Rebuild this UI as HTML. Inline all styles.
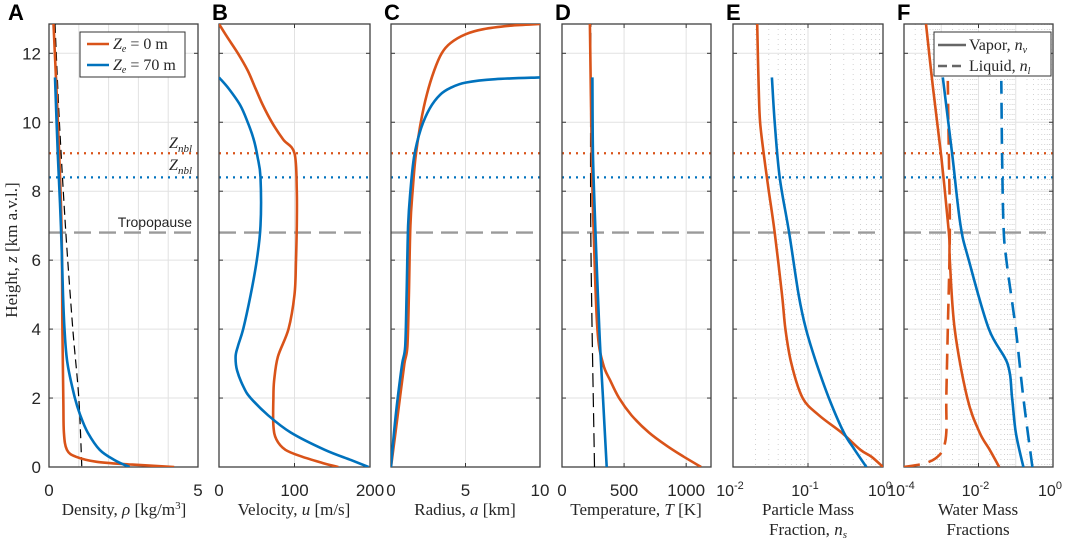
<!DOCTYPE html>
<html><head><meta charset="utf-8">
<style>
body{margin:0;background:#fff;}
svg{display:block;font-family:"Liberation Sans",sans-serif;}
.ser{font-family:"Liberation Serif",serif;}
</style></head>
<body>
<svg id="fig" width="1065" height="538" viewBox="0 0 1065 538" xmlns="http://www.w3.org/2000/svg"></svg>
<script>
// ---- data ----
const zTicks=[0,2,4,6,8,10,12];
const zNblRed=9.1, zNblBlue=8.4, zTrop=6.8;
// Panel A density
const aRedZ=[12.85,10,7,4,2,1,0.5,0.3,0.15,0.07,0];
const aRedV=[0.15,0.3,0.42,0.45,0.48,0.5,0.6,0.9,1.6,2.8,4.2];
const aBlueZ=[11.3,9,7,5,4,3,2,1.5,1,0.5,0.2,0];
const aBlueV=[0.2,0.3,0.4,0.47,0.52,0.62,0.87,1.05,1.3,1.7,2.2,2.7];
const aAtmZ=[12.85,10,7,4,2,0];
const aAtmV=[0.2,0.35,0.55,0.8,1.0,1.1];
// Panel B velocity
const bRedZ=[12.85,12.5,12,11.5,11,10.5,10,9.5,9.1,8,7,6,5,4,3.2,2.5,2,1.2,0.8,0.5,0.3,0.1,0];
const bRedV=[0,10,25,38,48,58,70,85,100,103,103,102,100,92,78,73,72,72,76,88,110,140,158];
const bBlueZ=[11.3,11,10.5,10,9.5,9,8.4,7,6,5,4,3.5,3.2,2.8,2.3,2,1.5,1,0.5,0.2,0];
const bBlueV=[0,12,28,38,46,51,55,55,50,42,32,25,22,24,33,42,65,95,140,175,198];
// Panel C radius
const cRedZ=[0,1,2,3,3.5,5,7,8,9,10,10.8,11.5,12,12.3,12.55,12.7,12.8,12.85];
const cRedV=[0,0.3,0.6,0.9,1.1,1.2,1.3,1.45,1.65,2,2.4,2.9,3.4,4,5,6.2,8,10];
const cBlueZ=[0,1,2,3,3.5,5,7,8,9,9.8,10.4,10.8,11.0,11.15,11.25,11.3];
const cBlueV=[0,0.2,0.45,0.75,0.95,1.05,1.15,1.3,1.55,2,2.6,3.3,4,5,7,10];
// Panel D temperature
const dRedZ=[0,0.3,0.6,1,1.5,2,2.5,3,4,6.8,9,12.85];
const dRedV=[1120,980,850,700,560,460,390,330,285,255,240,225];
const dBlueZ=[0,2,4,6.8,9,11.3];
const dBlueV=[360,330,300,270,250,245];
const dAtmZ=[0,6.8,12.85];
const dAtmV=[262,232,232];
// Panel E particle mass fraction (log)
const eRedZ=[0,0.3,0.5,1,1.5,2,3,4,5,6.8,8,9,10,11,12.85];
const eRedV=[1,0.7,0.5,0.28,0.14,0.085,0.06,0.05,0.045,0.036,0.03,0.026,0.023,0.022,0.021];
const eBlueZ=[0,0.5,1,2,3,4,5,6.8,8.4,10,11.3];
const eBlueV=[0.6,0.42,0.3,0.19,0.13,0.094,0.075,0.056,0.042,0.036,0.033];
// Panel F water mass fractions (log)
const fRedVapZ=[0,0.5,1,2,4,6,6.8,9,11,12.85];
const fRedVapV=[0.036,0.02,0.0107,0.005,0.0023,0.0017,0.0016,0.001,0.0006,0.00039];
const fRedLiqZ=[0,0.1,0.25,0.5,1,2,4,6.8,9,11.2];
const fRedLiqV=[0.0001,0.00034,0.0007,0.0011,0.00137,0.00137,0.0015,0.0017,0.0016,0.0015];
const fBlueVapZ=[0,1,2,3,4,6,7,9,11.3];
const fBlueVapV=[0.16,0.1,0.08,0.06,0.019,0.0055,0.0033,0.002,0.0011];
const fBlueLiqZ=[0,2,4,6,7,9,11.2];
const fBlueLiqV=[0.28,0.16,0.1,0.056,0.047,0.043,0.041];

const RED='#D95319', BLUE='#0072BD';
const NS='http://www.w3.org/2000/svg';
const svg=document.getElementById('fig');
const TOP=24, BOT=467, ZMAX=12.85;
const yS=z=>BOT-(z/ZMAX)*(BOT-TOP);
function el(tag,attrs,parent){const e=document.createElementNS(NS,tag);for(const k in attrs)e.setAttribute(k,attrs[k]);(parent||svg).appendChild(e);return e;}
function pathCR(pts){let d='M'+pts[0][0].toFixed(1)+','+pts[0][1].toFixed(1);
 for(let i=0;i<pts.length-1;i++){const p0=pts[i-1]||pts[i],p1=pts[i],p2=pts[i+1],p3=pts[i+2]||p2;
  const c1=[p1[0]+(p2[0]-p0[0])/6,p1[1]+(p2[1]-p0[1])/6],c2=[p2[0]-(p3[0]-p1[0])/6,p2[1]-(p3[1]-p1[1])/6];
  d+=`C${c1[0].toFixed(1)},${c1[1].toFixed(1)} ${c2[0].toFixed(1)},${c2[1].toFixed(1)} ${p2[0].toFixed(1)},${p2[1].toFixed(1)}`;}
 return d;}

const panels=[
 {id:'a',x0:49,x1:198,min:0,max:5,log:false,ticks:[0,5],tl:['0','5'],grid:[1,2,3,4],letter:'A'},
 {id:'b',x0:219,x1:370,min:0,max:200,log:false,ticks:[0,100,200],tl:['0','100','200'],grid:[100],letter:'B'},
 {id:'c',x0:391,x1:540,min:0,max:10,log:false,ticks:[0,5,10],tl:['0','5','10'],grid:[5],letter:'C'},
 {id:'d',x0:562,x1:711,min:0,max:1200,log:false,ticks:[0,500,1000],tl:['0','500','1000'],grid:[500,1000],letter:'D'},
 {id:'e',x0:733,x1:883,min:-2,max:0,log:true,ticks:[-2,-1,0],tl:['-2','-1','0'],grid:[-1],letter:'E'},
 {id:'f',x0:904,x1:1053,min:-4,max:0,log:true,ticks:[-4,-2,0],tl:['-4','-2','0'],grid:[-3,-2,-1],letter:'F'}
];
panels.forEach(p=>{p.xs=v=>{const t=p.log?Math.log10(v):v;return p.x0+(t-p.min)/(p.max-p.min)*(p.x1-p.x0);};
 p.xr=t=>p.x0+(t-p.min)/(p.max-p.min)*(p.x1-p.x0);});

function series(p,zs,vs,color,dash,name,w){
 const pts=zs.map((z,i)=>[p.xs(vs[i]),yS(z)]);
 const e=el('path',{d:pathCR(pts),fill:'none',stroke:color,'stroke-width':w||2.6,'stroke-dasharray':dash||'none','clip-path':'url(#clip-'+p.id+')'});
 
 
}

panels.forEach(p=>{
 const g=el('g',{});
 
 
 const cp=el('clipPath',{id:'clip-'+p.id});el('rect',{x:p.x0,y:TOP,width:p.x1-p.x0,height:BOT-TOP},cp);
 if(p.log){for(let d=p.min;d<p.max;d++)for(let m=2;m<=9;m++){const x=p.xr(d+Math.log10(m));
   el('line',{x1:x,x2:x,y1:TOP,y2:BOT,stroke:'#c8c8c8','stroke-width':0.8,'stroke-dasharray':'1 4'});}}
 zTicks.forEach(z=>{if(z>0){el('line',{x1:p.x0,x2:p.x1,y1:yS(z),y2:yS(z),stroke:'#e2e2e2','stroke-width':1});}});
 p.grid.forEach(v=>{const x=p.xr(v);el('line',{x1:x,x2:x,y1:TOP,y2:BOT,stroke:'#e2e2e2','stroke-width':1});});
 const r1=el('line',{x1:p.x0,x2:p.x1,y1:yS(zNblRed),y2:yS(zNblRed),stroke:RED,'stroke-width':2.2,'stroke-dasharray':'2 5'});
 
 const r2=el('line',{x1:p.x0,x2:p.x1,y1:yS(zNblBlue),y2:yS(zNblBlue),stroke:BLUE,'stroke-width':2.2,'stroke-dasharray':'2 5'});
 
 const r3=el('line',{x1:p.x0,x2:p.x1,y1:yS(zTrop),y2:yS(zTrop),stroke:'#9a9a9a','stroke-width':2.4,'stroke-dasharray':'17 8'});
 
 zTicks.forEach(z=>{el('line',{x1:p.x0,x2:p.x0+4,y1:yS(z),y2:yS(z),stroke:'#333'});el('line',{x1:p.x1-4,x2:p.x1,y1:yS(z),y2:yS(z),stroke:'#333'});});
 p.ticks.forEach((t,i)=>{const x=p.xr(t);el('line',{x1:x,x2:x,y1:BOT,y2:BOT-4,stroke:'#333'});el('line',{x1:x,x2:x,y1:TOP,y2:TOP+4,stroke:'#333'});
  let tx;
  if(p.log){tx=el('text',{x:x-3,y:496,'font-size':16,'text-anchor':'middle',fill:'#262626'});tx.textContent='10';
   const s=el('tspan',{dy:-7,'font-size':11},tx);s.textContent=p.tl[i];}
  else{tx=el('text',{x:x,y:496,'font-size':17,'text-anchor':'middle',fill:'#262626'});tx.textContent=p.tl[i];}
  });
 el('rect',{x:p.x0,y:TOP,width:p.x1-p.x0,height:BOT-TOP,fill:'none',stroke:'#404040','stroke-width':1.3});
 const L=el('text',{x:p.x0-41+ (p.id==='a'?0:34),y:20,'font-size':22,'font-weight':'bold',fill:'#000'});
 L.textContent=p.letter;
});
zTicks.forEach(z=>{const t=el('text',{x:41,y:yS(z)+6,'font-size':17,'text-anchor':'end',fill:'#262626'});t.textContent=z;
 });
const yt=el('text',{x:0,y:0,'font-size':17,'text-anchor':'middle',fill:'#262626',class:'ser',transform:'translate(17,250) rotate(-90)'});
yt.innerHTML='Height, <tspan font-style="italic">z</tspan> [km a.v.l.]';


const P=Object.fromEntries(panels.map(p=>[p.id,p]));
series(P.a,aAtmZ,aAtmV,'#000','9 5','density-atmosphere',1.2);
series(P.a,aRedZ,aRedV,RED,null,'density-ze0');
series(P.a,aBlueZ,aBlueV,BLUE,null,'density-ze70');
series(P.b,bRedZ,bRedV,RED,null,'velocity-ze0');
series(P.b,bBlueZ,bBlueV,BLUE,null,'velocity-ze70');
series(P.c,cRedZ,cRedV,RED,null,'radius-ze0');
series(P.c,cBlueZ,cBlueV,BLUE,null,'radius-ze70');
series(P.d,dAtmZ,dAtmV,'#000','14 6','temperature-atmosphere',1.2);
series(P.d,dRedZ,dRedV,RED,null,'temperature-ze0');
series(P.d,dBlueZ,dBlueV,BLUE,null,'temperature-ze70');
series(P.e,eRedZ,eRedV,RED,null,'particle-fraction-ze0');
series(P.e,eBlueZ,eBlueV,BLUE,null,'particle-fraction-ze70');
series(P.f,fRedVapZ,fRedVapV,RED,null,'vapor-ze0');
series(P.f,fRedLiqZ,fRedLiqV,RED,'16 9','liquid-ze0');
series(P.f,fBlueVapZ,fBlueVapV,BLUE,null,'vapor-ze70');
series(P.f,fBlueLiqZ,fBlueLiqV,BLUE,'16 9','liquid-ze70');

function txt(x,y,html,name,extra){const t=el('text',Object.assign({x:x,y:y,'font-size':16,fill:'#262626',class:'ser'},extra||{}));t.innerHTML=html;
 return t;}
txt(192,148,'<tspan font-style="italic">Z</tspan><tspan font-size="11" dy="4" font-style="italic">nbl</tspan>','znbl-label-red',{'text-anchor':'end'});
txt(192,170,'<tspan font-style="italic">Z</tspan><tspan font-size="11" dy="4" font-style="italic">nbl</tspan>','znbl-label-blue',{'text-anchor':'end'});
const tp=el('text',{x:192,y:227,'font-size':14,'text-anchor':'end',fill:'#262626'});tp.textContent='Tropopause';

txt(124,515,'Density, <tspan font-style="italic">ρ</tspan> [kg/m<tspan font-size="11" dy="-6">3</tspan><tspan dy="6">]</tspan>','x-title-density',{'text-anchor':'middle','font-size':17});
txt(294,515,'Velocity, <tspan font-style="italic">u</tspan> [m/s]','x-title-velocity',{'text-anchor':'middle','font-size':17});
txt(465,515,'Radius, <tspan font-style="italic">a</tspan> [km]','x-title-radius',{'text-anchor':'middle','font-size':17});
txt(636,515,'Temperature, <tspan font-style="italic">T</tspan> [K]','x-title-temperature',{'text-anchor':'middle','font-size':17});
txt(808,515,'Particle Mass','x-title-particle-1',{'text-anchor':'middle','font-size':17});
txt(808,535,'Fraction, <tspan font-style="italic">n</tspan><tspan font-size="11" dy="3" font-style="italic">s</tspan>','x-title-particle-2',{'text-anchor':'middle','font-size':17});
txt(978,515,'Water Mass','x-title-water-1',{'text-anchor':'middle','font-size':17});
txt(978,535,'Fractions','x-title-water-2',{'text-anchor':'middle','font-size':17});

const lg=el('g',{});
el('rect',{x:80,y:32,width:105,height:45,fill:'#fff',stroke:'#333','stroke-width':1},lg);
el('line',{x1:87,x2:109,y1:44,y2:44,stroke:RED,'stroke-width':2.6},lg);
el('line',{x1:87,x2:109,y1:65,y2:65,stroke:BLUE,'stroke-width':2.6},lg);
const l1=el('text',{x:113,y:49,'font-size':16,class:'ser',fill:'#262626'},lg);l1.innerHTML='<tspan font-style="italic">Z</tspan><tspan font-size="10" dy="3" font-style="italic">e</tspan><tspan dy="-3"> = 0 m</tspan>';

const l2=el('text',{x:113,y:70,'font-size':16,class:'ser',fill:'#262626'},lg);l2.innerHTML='<tspan font-style="italic">Z</tspan><tspan font-size="10" dy="3" font-style="italic">e</tspan><tspan dy="-3"> = 70 m</tspan>';

const lf=el('g',{});
el('rect',{x:934,y:32,width:117,height:44,fill:'#fff',stroke:'#333','stroke-width':1},lf);
el('line',{x1:938,x2:966,y1:45,y2:45,stroke:'#666','stroke-width':2.4},lf);
el('line',{x1:938,x2:966,y1:66,y2:66,stroke:'#666','stroke-width':2.4,'stroke-dasharray':'9 5'},lf);
const l3=el('text',{x:969,y:50,'font-size':16,class:'ser',fill:'#262626'},lf);l3.innerHTML='Vapor, <tspan font-style="italic">n</tspan><tspan font-size="10" dy="3" font-style="italic">v</tspan>';

const l4=el('text',{x:969,y:71,'font-size':16,class:'ser',fill:'#262626'},lf);l4.innerHTML='Liquid, <tspan font-style="italic">n</tspan><tspan font-size="10" dy="3" font-style="italic">l</tspan>';

</script>
</body></html>
